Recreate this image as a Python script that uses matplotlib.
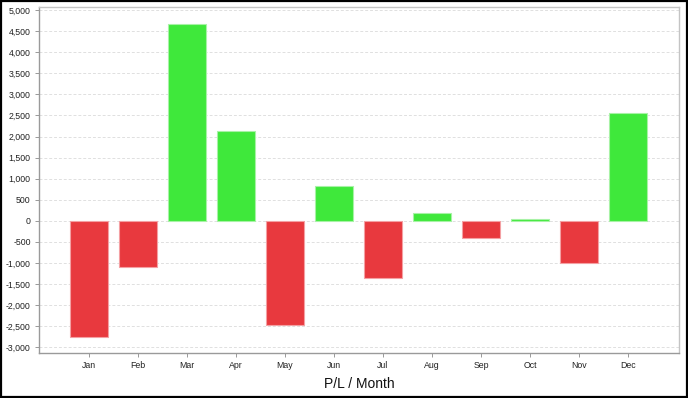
import matplotlib.pyplot as plt
import matplotlib.ticker as mticker
from matplotlib.patches import Rectangle

# ---------------------------------------------------------
# DATA
# ---------------------------------------------------------
months = ["Jan", "Feb", "Mar", "Apr", "May", "Jun",
          "Jul", "Aug", "Sep", "Oct", "Nov", "Dec"]
pl_values = [-2760, -1110, 4680, 2140, -2480, 830,
             -1350, 180, -400, 50, -1010, 2560]

RED = "#e8393e"
GREEN = "#3fe83b"
RED_EDGE = "#f4a0a3"
GREEN_EDGE = "#a8f2a6"

plt.rcParams["font.family"] = ["Liberation Sans", "DejaVu Sans"]

# ---------------------------------------------------------
# PLOT
# ---------------------------------------------------------
fig = plt.figure(figsize=(6.88, 3.98), dpi=100)
ax = fig.add_axes([39 / 688, 1 - 353 / 398, 640 / 688, 346 / 398])

x = list(range(len(months)))
colors = [GREEN if v >= 0 else RED for v in pl_values]
edges = [GREEN_EDGE if v >= 0 else RED_EDGE for v in pl_values]

ax.bar(x, pl_values, width=0.76, color=colors, edgecolor=edges,
       linewidth=0.8, zorder=3)

ax.set_xlim(-1.02, 12.04)
ax.set_ylim(-3142, 5076)
ax.set_xticks(x)
ax.set_xticklabels(months)
ax.yaxis.set_major_locator(mticker.MultipleLocator(500))
ax.yaxis.set_major_formatter(mticker.FuncFormatter(lambda v, p: f"{int(v):,}"))

ax.grid(axis="y", color="#e0e0e0", linestyle=(0, (3, 2)), linewidth=0.7, zorder=0)
ax.tick_params(axis="both", labelsize=6.3, length=3, width=0.7,
               color="#999999", labelcolor="#222222", pad=3)

ax.spines["left"].set_color("#9a9a9a")
ax.spines["bottom"].set_color("#9a9a9a")
ax.spines["top"].set_color("#c4c4c4")
ax.spines["right"].set_color("#c4c4c4")
for s in ax.spines.values():
    s.set_linewidth(1.0)

ax.set_xlabel("P/L / Month", fontsize=10, color="#111111", labelpad=5)

# figure border
fig.patches.append(Rectangle((0.001, 0.002), 0.997, 0.995, transform=fig.transFigure,
                             fill=False, edgecolor="black", linewidth=1.6))

fig.savefig("out.png", dpi=100)
